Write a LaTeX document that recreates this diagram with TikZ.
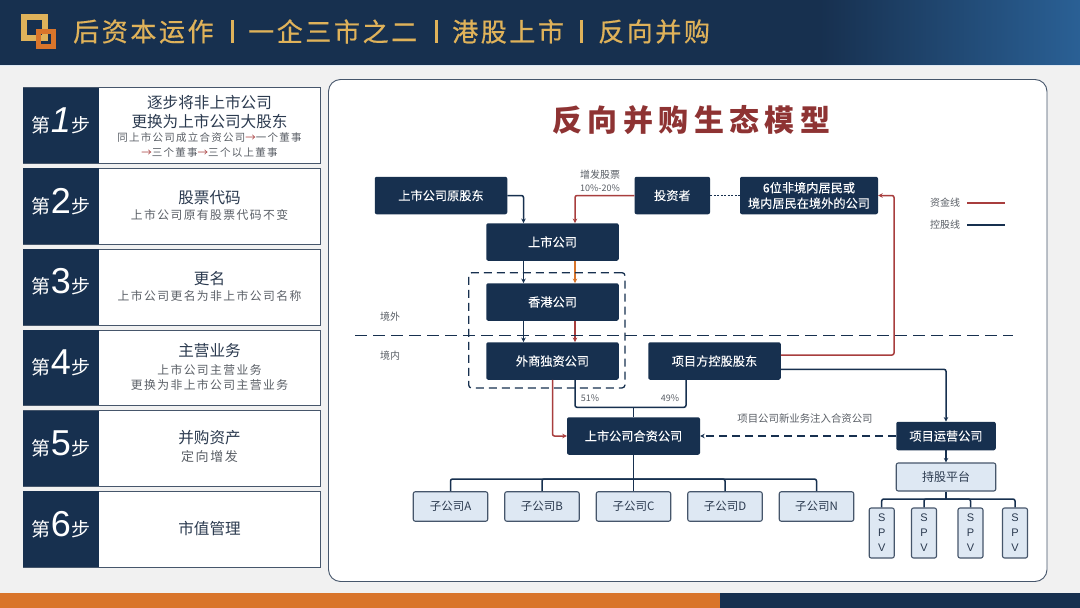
\documentclass[tikz,border=0pt]{standalone}
\usepackage{fontspec}
\setmainfont{Noto Sans CJK SC}
\newfontfamily\subfont[LetterSpace=12]{Noto Sans CJK SC}
\newfontfamily\headfont[LetterSpace=10, FakeBold=0.6]{Noto Sans CJK SC}
\newfontfamily\modelfont[LetterSpace=18]{Noto Sans CJK SC}
\newfontfamily\boxfont[FakeBold=0.1]{Noto Sans CJK SC}
\newfontfamily\numfont{Liberation Sans}
\usepackage{xcolor}
\usetikzlibrary{positioning, arrows.meta}
\definecolor{navy}{HTML}{17304F}
\definecolor{skyend}{HTML}{2A6095}
\definecolor{pagebg}{HTML}{F1F1F1}
\definecolor{gold}{HTML}{DFB25A}
\definecolor{amber}{HTML}{D9752B}
\definecolor{edgegray}{HTML}{46566B}
\definecolor{fundred}{HTML}{A83E3E}
\definecolor{modelred}{HTML}{8E3333}
\definecolor{paleblue}{HTML}{DEE8F3}
\definecolor{graytext}{HTML}{5A5F66}
\definecolor{inktext}{HTML}{2B3A4F}
\tikzset{
    navybox/.style={draw=none, fill=navy, rounded corners=2pt, text=white, align=center, inner sep=0pt,
        minimum width=132.5pt, minimum height=37.5pt, font=\boxfont\fontsize{12.2}{15.5}\selectfont},
    palebox/.style={draw=edgegray, line width=1.1pt, fill=paleblue, rounded corners=2pt, text=inktext, align=center, inner sep=0pt,
        minimum width=74.5pt, minimum height=29.5pt, font=\fontsize{11.5}{14}\selectfont},
    spvbox/.style={palebox, minimum width=25pt, minimum height=50pt, font=\numfont\fontsize{11}{15}\selectfont},
    stepbox/.style={draw=edgegray, line width=0.9pt, fill=white, minimum width=297pt, minimum height=75.7pt, inner sep=0pt},
    steptag/.style={fill=navy, minimum width=76.3pt, minimum height=75.7pt, inner sep=0pt},
    mainline/.style={text=inktext, align=center, font=\fontsize{15.6}{19}\selectfont},
    subline/.style={text=graytext, align=center},
    headpart/.style={anchor=west, inner sep=0pt, text=gold, font=\headfont\fontsize{26}{30}\selectfont},
    note/.style={text=graytext, align=center, inner sep=0pt, font=\fontsize{10}{13}\selectfont},
    ctrlline/.style={draw=navy, line width=1.5pt, rounded corners=2pt},
    fundline/.style={draw=fundred, line width=1.5pt, rounded corners=2pt},
    tip/.style={-{Stealth[length=4.5pt,width=4.5pt]}},
}
\begin{document}
\begin{tikzpicture}[x=1pt, y=-1pt]
    \useasboundingbox (0,0) rectangle (1080,608);
    % Page, header and footer
    \fill[pagebg] (0,0) rectangle (1080,608);
    \fill[navy] (0,0) rectangle (820,65);
    \shade[left color=navy, right color=skyend] (820,0) rectangle (1080,65);
    \fill[paleblue] (0,65) rectangle (1080,66);
    \fill[amber] (0,592.5) rectangle (719.5,608);
    \fill[navy] (719.5,592.5) rectangle (1080,608);

    % Logo and heading
    \draw[gold, line width=6pt] (23.7,17) rectangle (44.7,38);
    \draw[amber, line width=5pt] (38.2,31.8) rectangle (53.2,46.8);
    \node[headpart] (head1) at (73,31.5) {后资本运作};
    \node[headpart] (head2) at (248,31.5) {一企三市之二};
    \node[headpart] (head3) at (452,31.5) {港股上市};
    \node[headpart] (head4) at (598,31.5) {反向并购};
    \foreach \x in {232, 436, 581}
        \fill[gold] (\x-1.5,20) rectangle (\x+1.5,43);

    % Left column: six steps
    \foreach \i/\mainy/\main/\suby/\subsize/\sub in {
        1/112/{逐步将非上市公司\\更换为上市公司大股东}/144.5/10.5/{同上市公司成立合资公司\textcolor{fundred}{→}一个董事\\\textcolor{fundred}{→}三个董事\textcolor{fundred}{→}三个以上董事},
        2/198/{股票代码}/215/11.8/{上市公司原有股票代码不变},
        3/279/{更名}/296/11.8/{上市公司更名为非上市公司名称},
        4/351/{主营业务}/377/11.8/{上市公司主营业务\\更换为非上市公司主营业务},
        5/438/{并购资产}/457/13/{定向增发},
        6/529/{市值管理}/529/10.5/{}} {
        \pgfmathsetmacro{\stepy}{87.3+80.75*(\i-1)}
        \node[stepbox, anchor=north west] (step\i) at (22.7,\stepy) {};
        \node[steptag, anchor=north west] (tag\i) at (22.7,\stepy) {};
        \node[anchor=base, inner sep=0pt, text=white, font=\fontsize{19}{22}\selectfont] (num\i) at (61,\stepy+45)
            {第{\numfont\fontsize{36}{36}\selectfont\ifnum\i=1 \itshape\fi\i}步};
        \node[mainline] (main\i) at (209.5,\mainy) {\main};
        \node[subline, font=\subfont\fontsize{\subsize}{15}\selectfont] (sub\i) at (209.5,\suby) {\sub};
    }

    % Right panel
    \draw[edgegray, line width=0.9pt, fill=white, rounded corners=12pt] (328.5,79.5) rectangle (1047,581.5);
    \node[text=modelred, inner sep=0pt, font=\modelfont\bfseries\fontsize{30}{34}\selectfont] (model) at (691.5,120) {反向并购生态模型};

    % Company boxes
    \node[navybox] (oldholder) at (441,195.5) {上市公司原股东};
    \node[navybox] (listed) at (552.5,242) {上市公司};
    \node[navybox, minimum width=75.5pt] (investor) at (672.3,195.5) {投资者};
    \node[navybox, minimum width=138pt] (sixholder) at (809,195.5) {6位非境内居民或\\境内居民在境外的公司};
    \node[navybox] (hkco) at (552.5,302) {香港公司};
    \node[navybox] (wfoe) at (552.5,361) {外商独资公司};
    \node[navybox] (projholder) at (714.5,361) {项目方控股股东};
    \node[navybox, minimum width=133pt] (jointco) at (633.5,436) {上市公司合资公司};
    \node[navybox, minimum width=99.5pt, minimum height=28.5pt] (opco) at (946,436) {项目运营公司};
    \node[palebox, minimum width=99.5pt, minimum height=28pt, font=\fontsize{12}{14}\selectfont] (platform) at (946,477) {持股平台};
    \foreach \k/\x in {A/450.5, B/542, C/633.5, D/725, N/816.5}
        \node[palebox] (sub\k) at (\x,506.5) {子公司\k};
    \foreach \k/\x in {1/881.7, 2/924, 3/970.5, 4/1015}
        \node[spvbox] (spv\k) at (\x,533) {S\\P\\V};

    % Helper points for the routed lines
    \coordinate (ctrlx) at (523.5,0);
    \coordinate (fundx) at (575,0);
    \coordinate (fundup) at (894,195.5);
    \coordinate (jointbus) at (633.5,407.3);
    \coordinate (projdrop) at (686,0);
    \coordinate (subbus) at (633.5,479);
    \coordinate (spvbus) at (946,499);

    % Control lines
    \draw[ctrlline, tip] (oldholder.east) -| (listed.north -| ctrlx);
    \draw[ctrlline, tip] (listed.south -| ctrlx) -- (hkco.north -| ctrlx);
    \draw[ctrlline, tip] (hkco.south -| ctrlx) -- (wfoe.north -| ctrlx);
    \draw[ctrlline] (wfoe.south -| fundx) |- (jointbus) -| (projholder.south -| projdrop);
    \draw[ctrlline] (jointbus) -- (jointco.north);
    \draw[ctrlline, tip] ([yshift=-8.3pt]projholder.east) -| (opco.north);
    \draw[ctrlline, tip] (opco.south) -- (platform.north);
    \draw[ctrlline, dash pattern=on 2pt off 1.5pt] (investor.east) -- (sixholder.west);
    \draw[ctrlline, tip, dash pattern=on 8pt off 5pt] (opco.west) -- (jointco.east);
    \draw[ctrlline] (jointco.south) -- (subbus);
    \foreach \k in {A,B,C,D,N}
        \draw[ctrlline] (subbus) -| (sub\k.north);
    \draw[ctrlline] (platform.south) -- (spvbus);
    \foreach \k in {1,2,3,4}
        \draw[ctrlline] (spvbus) -| (spv\k.north);

    % Funding lines
    \draw[fundline, tip] (investor.west) -| (listed.north -| fundx);
    \draw[fundline, tip, draw=amber] (listed.south -| fundx) -- (hkco.north -| fundx);
    \draw[fundline, tip] (hkco.south -| fundx) -- (wfoe.north -| fundx);
    \draw[fundline, tip] (wfoe.south) |- (jointco.west);
    \draw[fundline, tip] ([yshift=6pt]projholder.east) -| (fundup) -- (sixholder.east);

    % Offshore group and border line
    \node[draw=navy, line width=1.3pt, dash pattern=on 8pt off 5pt, rounded corners=3pt, minimum width=156.3pt, minimum height=115.3pt, inner sep=0pt] (hkgroup) at (546.8,330.3) {};
    \coordinate (borderw) at (355,335.3);
    \coordinate (bordere) at (1013,335.3);
    \draw[ctrlline, dash pattern=on 12pt off 6pt] (borderw) -- (bordere);

    % Labels
    \node[note] (offshore) at (390,316.5) {境外};
    \node[note] (onshore) at (390,355.5) {境内};
    \node[note] (newshare) at (600,175) {增发股票};
    \node[note, font=\fontsize{9}{11}\selectfont] (shareratio) at (600,188) {10\%-20\%};
    \node[note, font=\fontsize{9}{11}\selectfont] (ratiowfoe) at (590,398) {51\%};
    \node[note, font=\fontsize{9}{11}\selectfont] (ratioproj) at (670,398) {49\%};
    \node[note, font=\fontsize{10.4}{13}\selectfont] (inject) at (805,419) {项目公司新业务注入合资公司};

    % Legend
    \node[note] (fundlabel) at (945,202.5) {资金线};
    \node[note] (ctrllabel) at (945,224.5) {控股线};
    \coordinate (fundleg) at (1005,202.5);
    \coordinate (ctrlleg) at (1005,224.5);
    \draw[fundline, line width=2pt] ([xshift=7pt]fundlabel.east) -- (fundleg);
    \draw[ctrlline, line width=2pt] ([xshift=7pt]ctrllabel.east) -- (ctrlleg);
\end{tikzpicture}
\end{document}
